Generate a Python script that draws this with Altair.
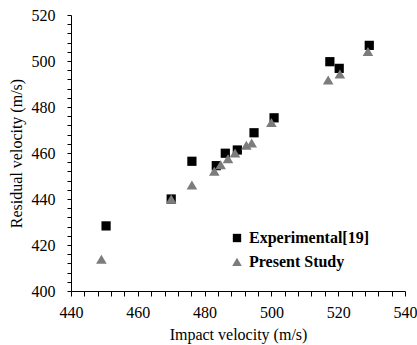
import altair as alt
import pandas as pd

impact_exp = [450.5, 470.0, 476.2, 483.5, 486.2, 489.8, 494.8, 500.8, 517.5, 520.3, 529.3]
resid_exp = [428.3, 440.0, 456.4, 454.5, 459.9, 461.3, 468.8, 475.3, 499.7, 496.8, 506.8]

impact_pre = [449.1, 470.0, 476.2, 482.9, 484.8, 487.0, 489.1, 492.5, 494.1, 500.0, 517.0, 520.5, 528.9]
resid_pre = [413.8, 440.0, 446.0, 452.0, 454.8, 457.4, 460.0, 463.3, 464.3, 473.2, 491.7, 494.3, 504.1]

series = ["Experimental[19]", "Present Study"]
x_ticks = list(range(440, 541, 4))
y_ticks = list(range(400, 521, 4))

rows = []
for x, y in zip(impact_exp, resid_exp):
    rows.append({"impact": x, "resid": y, "series": series[0]})
for x, y in zip(impact_pre, resid_pre):
    rows.append({"impact": x, "resid": y, "series": series[1]})
df = pd.DataFrame(rows)
df["order"] = range(len(df))

W, H = 334, 276
FONT = "Liberation Serif"
TRI = "M0,-1L1.15,0.95L-1.15,0.95Z"

xscale = alt.Scale(domain=[440, 540], nice=False, zero=False)
yscale = alt.Scale(domain=[400, 520], nice=False, zero=False)

legend = alt.Legend(title=None, orient="none", legendX=158, legendY=215,
                    labelFont=FONT, labelFontSize=16, labelFontWeight="bold",
                    labelColor="black", symbolSize=70, rowPadding=8,
                    symbolStrokeWidth=0, symbolOpacity=1)

chart = alt.Chart(df).mark_point(filled=True, opacity=1, size=85).encode(
    x=alt.X("impact:Q", scale=xscale,
            axis=alt.Axis(title="Impact velocity (m/s)", values=x_ticks,
                          labelExpr="datum.value % 20 == 0 ? datum.label : ''",
                          labelOverlap=False, labelFlush=False, ticks=True, tickSize=5,
                          labelPadding=8, gridOpacity=0, titlePadding=6)),
    y=alt.Y("resid:Q", scale=yscale,
            axis=alt.Axis(title="Residual velocity (m/s)", values=y_ticks,
                          labelExpr="datum.value % 20 == 0 ? datum.label : ''",
                          labelOverlap=False, labelFlush=False, ticks=True,
                          tickSize=4, labelPadding=12, gridOpacity=0, titlePadding=7)),
    shape=alt.Shape("series:N", scale=alt.Scale(domain=series, range=["square", TRI]),
                    legend=legend),
    color=alt.Color("series:N", scale=alt.Scale(domain=series, range=["#000000", "#7c7c7c"]),
                    legend=legend),
    order="order:Q",
).properties(
    width=W, height=H,
    autosize=alt.AutoSizeParams(type="none"),
    padding={"left": 71, "top": 15, "right": 12, "bottom": 54},
    background="white",
).configure_axis(
    domainColor="black", tickColor="black", labelColor="black", titleColor="black",
    labelFont=FONT, titleFont=FONT, labelFontSize=16, titleFontSize=16,
    titleFontWeight="normal", domainWidth=1, tickWidth=1,
).configure_view(stroke=None)

chart.save("out.html", embed_options={"renderer": "svg", "actions": False})
